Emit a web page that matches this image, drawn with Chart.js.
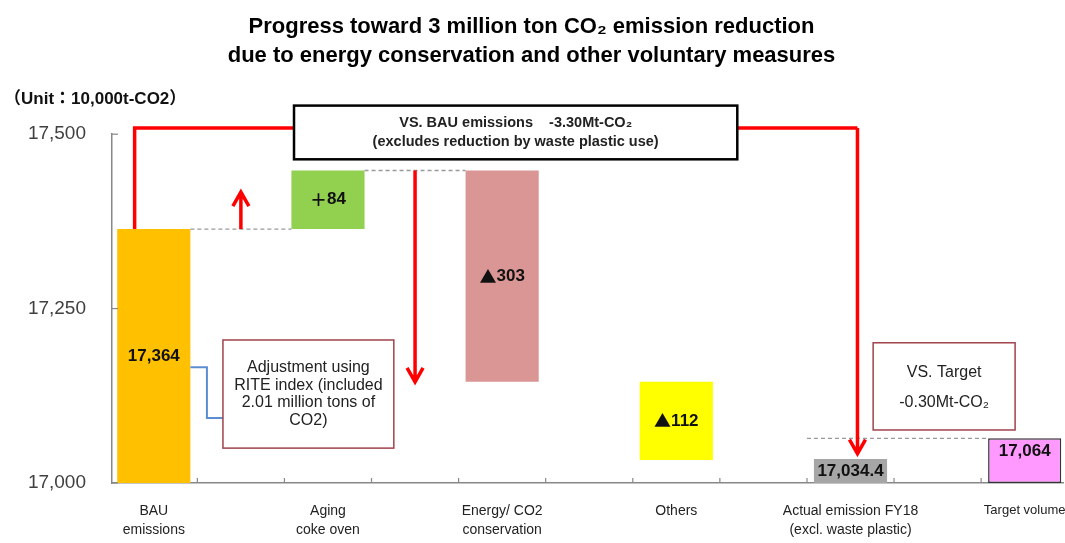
<!DOCTYPE html>
<html>
<head>
<meta charset="utf-8">
<script src="https://cdn.jsdelivr.net/npm/chart.js@4"></script>
<style>
  html, body { margin: 0; padding: 0; background: #fff; }
  #wrap { width: 1065px; height: 543px; }
</style>
</head>
<body>
<div id="wrap"><canvas id="grafico" width="1065" height="543"></canvas></div>
<script>
// categorias e valores (10.000 t-CO2)
const categorias = [
  ['BAU', 'emissions'],
  ['Aging', 'coke oven'],
  ['Energy/ CO2', 'conservation'],
  ['Others'],
  ['Actual emission FY18', '(excl. waste plastic)'],
  ['Target volume']
];
const base = 17000;
const emissaoBAU = 17364;
const variacoes = [84, -303, -112];      // coqueria, energia, outros
const emissaoReal = 17034.4;
const meta = 17064;
const ticksY = [17000, 17250, 17500];
const cores = ['#FFC000', '#92D050', '#D99694', '#FFFF00', '#A6A6A6', '#FF99FF'];

const FONTE = "'Liberation Sans', Arial, sans-serif";
const FONTE_CJK = "'Noto Sans CJK JP', sans-serif";

// monta as barras flutuantes da cascata
const faixas = [[base, emissaoBAU]];
let acumulado = emissaoBAU;
variacoes.forEach(v => {
  faixas.push([acumulado, acumulado + v]);
  acumulado += v;
});
faixas.push([base, emissaoReal]);
faixas.push([base, meta]);

// [prefixo, número] de cada rótulo
const rotulos = [
  ['', emissaoBAU.toLocaleString('en-US')],
  ...variacoes.map(v => [v > 0 ? '＋' : '▲', String(Math.abs(v))]),
  ['', emissaoReal.toLocaleString('en-US', { minimumFractionDigits: 1 })],
  ['', meta.toLocaleString('en-US')]
];

function seta(ctx, x, y0, y1) {
  const dir = y1 > y0 ? 1 : -1;
  ctx.beginPath();
  ctx.moveTo(x, y0);
  ctx.lineTo(x, y1);
  ctx.moveTo(x - 8, y1 - dir * 14);
  ctx.lineTo(x, y1);
  ctx.lineTo(x + 8, y1 - dir * 14);
  ctx.stroke();
}

function caixa(ctx, l, t, r, b, cor, larg) {
  ctx.fillStyle = '#fff';
  ctx.fillRect(l, t, r - l, b - t);
  ctx.strokeStyle = cor;
  ctx.lineWidth = larg;
  ctx.strokeRect(l, t, r - l, b - t);
}

function textoLinhas(ctx, linhas, cx, cy, alt, fonte) {
  ctx.font = fonte;
  ctx.fillStyle = '#222';
  ctx.textAlign = 'center';
  ctx.textBaseline = 'middle';
  const y0 = cy - (linhas.length - 1) * alt / 2;
  linhas.forEach((l, i) => ctx.fillText(l, cx, y0 + i * alt));
}

const anotacoes = {
  id: 'anotacoes',
  afterDatasetsDraw(chart) {
    const { ctx, chartArea, scales: { x, y } } = chart;
    const X = v => x.getPixelForValue(v);
    const Y = v => y.getPixelForValue(v);
    const barras = chart.getDatasetMeta(0).data;
    const esq = i => barras[i].x - barras[i].width / 2;
    const dir = i => barras[i].x + barras[i].width / 2;
    ctx.save();

    // marcas das escalas (para dentro)
    ctx.strokeStyle = '#888';
    ctx.lineWidth = 1.2;
    ticksY.forEach(t => {
      ctx.beginPath();
      ctx.moveTo(chartArea.left, Y(t));
      ctx.lineTo(chartArea.left + 6, Y(t));
      ctx.stroke();
    });
    for (let v = 0.25; v < categorias.length - 0.5; v += 0.5) {
      ctx.beginPath();
      ctx.moveTo(X(v), chartArea.bottom);
      ctx.lineTo(X(v), chartArea.bottom - 5);
      ctx.stroke();
    }

    // ligações tracejadas
    ctx.strokeStyle = '#999';
    ctx.lineWidth = 1.3;
    ctx.setLineDash([4, 3]);
    [[dir(0), esq(1), emissaoBAU], [dir(1), esq(2), faixas[1][1]], [X(3.75), esq(5), meta]]
      .forEach(([a, b, v]) => {
        ctx.beginPath();
        ctx.moveTo(a, Y(v));
        ctx.lineTo(b, Y(v));
        ctx.stroke();
      });
    ctx.setLineDash([]);

    // rótulos das barras (triângulo/sinal em fonte CJK, número em Liberation)
    ctx.fillStyle = '#111';
    ctx.textAlign = 'left';
    ctx.textBaseline = 'middle';
    barras.forEach((b, i) => {
      const topo = Math.min(b.y, b.base);
      const cy = i === barras.length - 1 ? topo + 13 : (b.y + b.base) / 2;
      const [pre, num] = rotulos[i];
      ctx.font = 'bold 17px ' + FONTE_CJK;
      const wPre = pre ? ctx.measureText(pre).width : 0;
      ctx.font = 'bold 17px ' + FONTE;
      const wNum = ctx.measureText(num).width;
      const x0 = b.x - (wPre + wNum) / 2;
      if (pre) {
        ctx.font = 'bold 17px ' + FONTE_CJK;
        ctx.fillText(pre, x0, cy);
        ctx.font = 'bold 17px ' + FONTE;
      }
      ctx.fillText(num, x0 + wPre, cy);
    });

    // setas vermelhas
    ctx.strokeStyle = '#FF0000';
    ctx.lineWidth = 3.5;
    seta(ctx, X(0.5), Y(emissaoBAU), Y(17417));
    seta(ctx, X(1.5), Y(faixas[1][1]), Y(faixas[2][1]));
    ctx.beginPath();
    ctx.moveTo(X(-0.11), Y(emissaoBAU));
    ctx.lineTo(X(-0.11), Y(17509));
    ctx.lineTo(X(4.04), Y(17509));
    ctx.stroke();
    seta(ctx, X(4.04), Y(17509), Y(17042));

    // quadro superior
    caixa(ctx, X(0.805), Y(17541), X(3.35), Y(17464), '#000', 2.5);
    const cxTopo = (X(0.805) + X(3.35)) / 2;
    textoLinhas(ctx, ['VS. BAU emissions    -3.30Mt-CO₂', '(excludes reduction by waste plastic use)'],
      cxTopo, (Y(17541) + Y(17464)) / 2, 19, 'bold 14.5px ' + FONTE);

    // conector azul até a nota do índice RITE
    ctx.strokeStyle = '#5B8ED0';
    ctx.lineWidth = 2;
    ctx.beginPath();
    ctx.moveTo(dir(0), Y(17166));
    ctx.lineTo(X(0.305), Y(17166));
    ctx.lineTo(X(0.305), Y(17093));
    ctx.lineTo(X(0.397), Y(17093));
    ctx.stroke();

    caixa(ctx, X(0.397), Y(17205), X(1.378), Y(17050), '#A0434B', 1.5);
    textoLinhas(ctx, ['Adjustment using', 'RITE index (included', '2.01 million tons of', 'CO2)'],
      (X(0.397) + X(1.378)) / 2, (Y(17205) + Y(17050)) / 2, 17.5, '16px ' + FONTE);

    caixa(ctx, X(4.13), Y(17201), X(4.945), Y(17076), '#A0434B', 1.5);
    textoLinhas(ctx, ['VS. Target', '-0.30Mt-CO₂'],
      (X(4.13) + X(4.945)) / 2, (Y(17201) + Y(17076)) / 2 + 1, 30, '16px ' + FONTE);

    // unidade
    ctx.font = "bold 17px 'Liberation Sans', 'Noto Sans CJK JP', sans-serif";
    ctx.fillStyle = '#111';
    ctx.textAlign = 'left';
    ctx.fillText('（Unit：10,000t-CO2）', 4, chartArea.top - 35);

    ctx.restore();
  }
};

new Chart(document.getElementById('grafico'), {
  type: 'bar',
  data: {
    datasets: [{
      data: faixas.map((f, i) => ({ x: i, y: f })),
      backgroundColor: cores,
      borderColor: cores.map((c, i) => i === cores.length - 1 ? '#333' : c),
      borderWidth: cores.map((c, i) => i === cores.length - 1 ? 1.5 : 0),
      borderSkipped: false,
      categoryPercentage: 1,
      barPercentage: 0.42
    }]
  },
  options: {
    responsive: false,
    animation: false,
    layout: { padding: { left: 0, right: 2, bottom: 0 } },
    plugins: {
      legend: { display: false },
      tooltip: { enabled: false },
      title: {
        display: true,
        text: ['Progress toward 3 million ton CO₂ emission reduction',
               'due to energy conservation and other voluntary measures'],
        color: '#000',
        font: { family: FONTE, size: 22, weight: 'bold', lineHeight: 1.3 },
        padding: { top: 13, bottom: 64 }
      }
    },
    scales: {
      x: {
        type: 'linear',
        min: -0.24,
        max: 5.22,
        offset: false,
        afterBuildTicks: s => { s.ticks = categorias.map((c, i) => ({ value: i })); },
        afterFit: s => { s.height = 60; s.paddingLeft = 0; s.paddingRight = 0; },
        grid: { offset: false, drawOnChartArea: false, drawTicks: false },
        border: { color: '#888', width: 1.5 },
        ticks: {
          padding: 18,
          color: '#222',
          maxRotation: 0,
          autoSkip: false,
          font: c => ({ family: FONTE, size: c.index === 5 ? 13 : 14, lineHeight: 1.4 }),
          callback: v => categorias[v]
        }
      },
      y: {
        min: 17000,
        max: 17500,
        afterBuildTicks: s => { s.ticks = ticksY.map(v => ({ value: v })); },
        afterFit: s => { s.width = 112; },
        grid: { drawOnChartArea: false, drawTicks: false },
        border: { color: '#888', width: 1.5 },
        ticks: {
          padding: 26,
          color: '#404040',
          font: { family: FONTE, size: 19 },
          callback: v => v.toLocaleString('en-US')
        }
      }
    }
  },
  plugins: [anotacoes]
});
</script>
</body>
</html>
